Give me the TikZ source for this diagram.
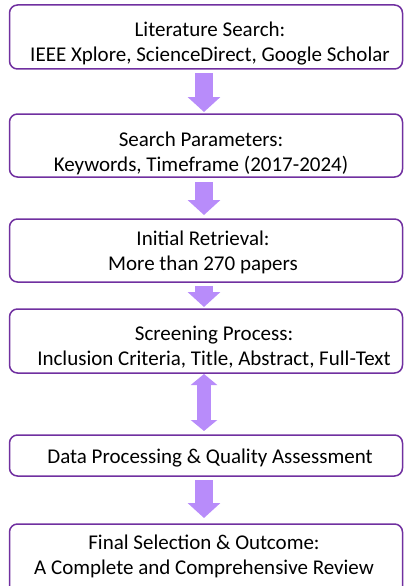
\documentclass[tikz,border=0pt]{standalone}
\usepackage{fontspec}
\setmainfont{Carlito}
\usetikzlibrary{arrows.meta}
\definecolor{boxline}{HTML}{7030A0}
\definecolor{arrfill}{HTML}{B88CFA}
\tikzset{
  stepbox/.style={draw=boxline, line width=1.5pt, rounded corners=8pt, minimum width=393pt, inner sep=0pt, outer sep=0pt},
  txt/.style={font=\fontsize{21pt}{25pt}\selectfont, align=center, inner sep=0pt, text=black},
  bigarrow/.style={draw=arrfill, line width=18pt, -{Triangle[width=32pt,length=15pt]}},
  dblarrow/.style={draw=arrfill, line width=14pt, {Triangle[width=26pt,length=11pt]}-{Triangle[width=26pt,length=11pt]}},
}
\begin{document}
\begin{tikzpicture}[x=1pt,y=1pt]
\useasboundingbox (0,0) rectangle (405,-586);
\clip (0,0) rectangle (405,-586);
\node[stepbox, minimum height=64pt] (b1) at (206,-37) {};
\node[stepbox, minimum height=63pt] (b2) at (206,-145.5) {};
\node[stepbox, minimum height=63pt] (b3) at (206,-250.5) {};
\node[stepbox, minimum height=64pt] (b4) at (206,-341) {};
\node[stepbox, minimum height=41pt] (b5) at (206,-455.5) {};
\node[stepbox, minimum height=80pt] (b6) at (206,-564) {};
\node[txt] (t1) at (210,-43.5) {Literature Search:\\IEEE Xplore, ScienceDirect, Google Scholar};
\node[txt] (t2) at (201,-153.5) {Search Parameters:\\Keywords, Timeframe (2017-2024)};
\node[txt] (t3) at (203,-252.5) {Initial Retrieval:\\More than 270 papers};
\node[txt] (t4) at (214,-347) {Screening Process:\\Inclusion Criteria, Title, Abstract, Full-Text};
\node[txt] (t5) at (210,-458) {Data Processing \& Quality Assessment};
\node[txt] (t6) at (204,-556.5) {Final Selection \& Outcome:\\A Complete and Comprehensive Review};
\draw[bigarrow] ([xshift=-2pt,yshift=-4pt]b1.south) -- ([xshift=-2pt,yshift=2pt]b2.north);
\draw[bigarrow] ([xshift=-2pt,yshift=-5pt]b2.south) -- ([xshift=-2pt,yshift=4pt]b3.north);
\draw[bigarrow] ([xshift=-2pt,yshift=-4pt]b3.south) -- ([xshift=-2pt,yshift=2pt]b4.north);
\draw[dblarrow] ([xshift=-2pt,yshift=-1pt]b4.south) -- ([xshift=-2pt,yshift=4pt]b5.north);
\draw[bigarrow] ([xshift=-2pt,yshift=-4pt]b5.south) -- ([xshift=-2pt,yshift=6pt]b6.north);
\end{tikzpicture}
\end{document}
